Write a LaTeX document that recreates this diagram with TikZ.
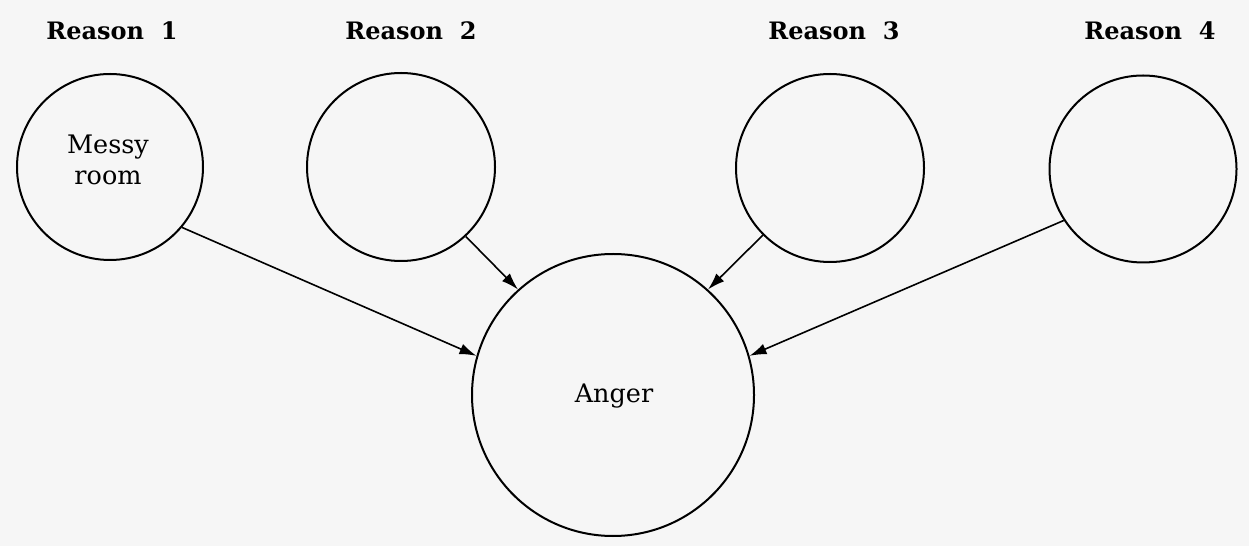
\documentclass[tikz,border=0pt]{standalone}
\usepackage{fontspec}
\setmainfont{DejaVu Serif}
\usetikzlibrary{arrows.meta}
\definecolor{bgc}{HTML}{F6F6F6}
\tikzset{
  reason/.style={circle, draw=black, line width=2pt, inner sep=0pt, minimum size=#1},
  head/.style={font=\fontsize{24}{28}\selectfont\bfseries, anchor=base, inner sep=0pt},
  body/.style={font=\fontsize{25.5}{31}\selectfont, align=center, inner sep=0pt},
  link/.style={line width=1.6pt, -{Latex[length=17pt,width=11pt]}}
}
\begin{document}
\begin{tikzpicture}[x=1pt,y=1pt]
\fill[bgc] (0,0) rectangle (1249,546);
\useasboundingbox (0,0) rectangle (1249,546);
\node[head] (h1) at (112,506.5) {Reason\ \ 1};
\node[head] (h2) at (411,506.5) {Reason\ \ 2};
\node[head] (h3) at (834,506.5) {Reason\ \ 3};
\node[head] (h4) at (1150,506.5) {Reason\ \ 4};
\node[reason=186pt] (c1) at (110,379) {};
\node[reason=188pt] (c2) at (401,379) {};
\node[reason=188pt] (c3) at (830,378) {};
\node[reason=187pt] (c4) at (1143,377) {};
\node[reason=282pt] (anger) at (613,151) {};
\node[body] (t1) at (108,386) {Messy\\room};
\node[body] (t5) at (614,150) {Anger};
\draw[link] (c1.-40) -- (anger.164);
\draw[link] (c2.-47.5) -- (anger.132);
\draw[link] (c3.-135) -- (anger.48);
\draw[link] (c4.-147.5) -- (anger.16);
\end{tikzpicture}
\end{document}
